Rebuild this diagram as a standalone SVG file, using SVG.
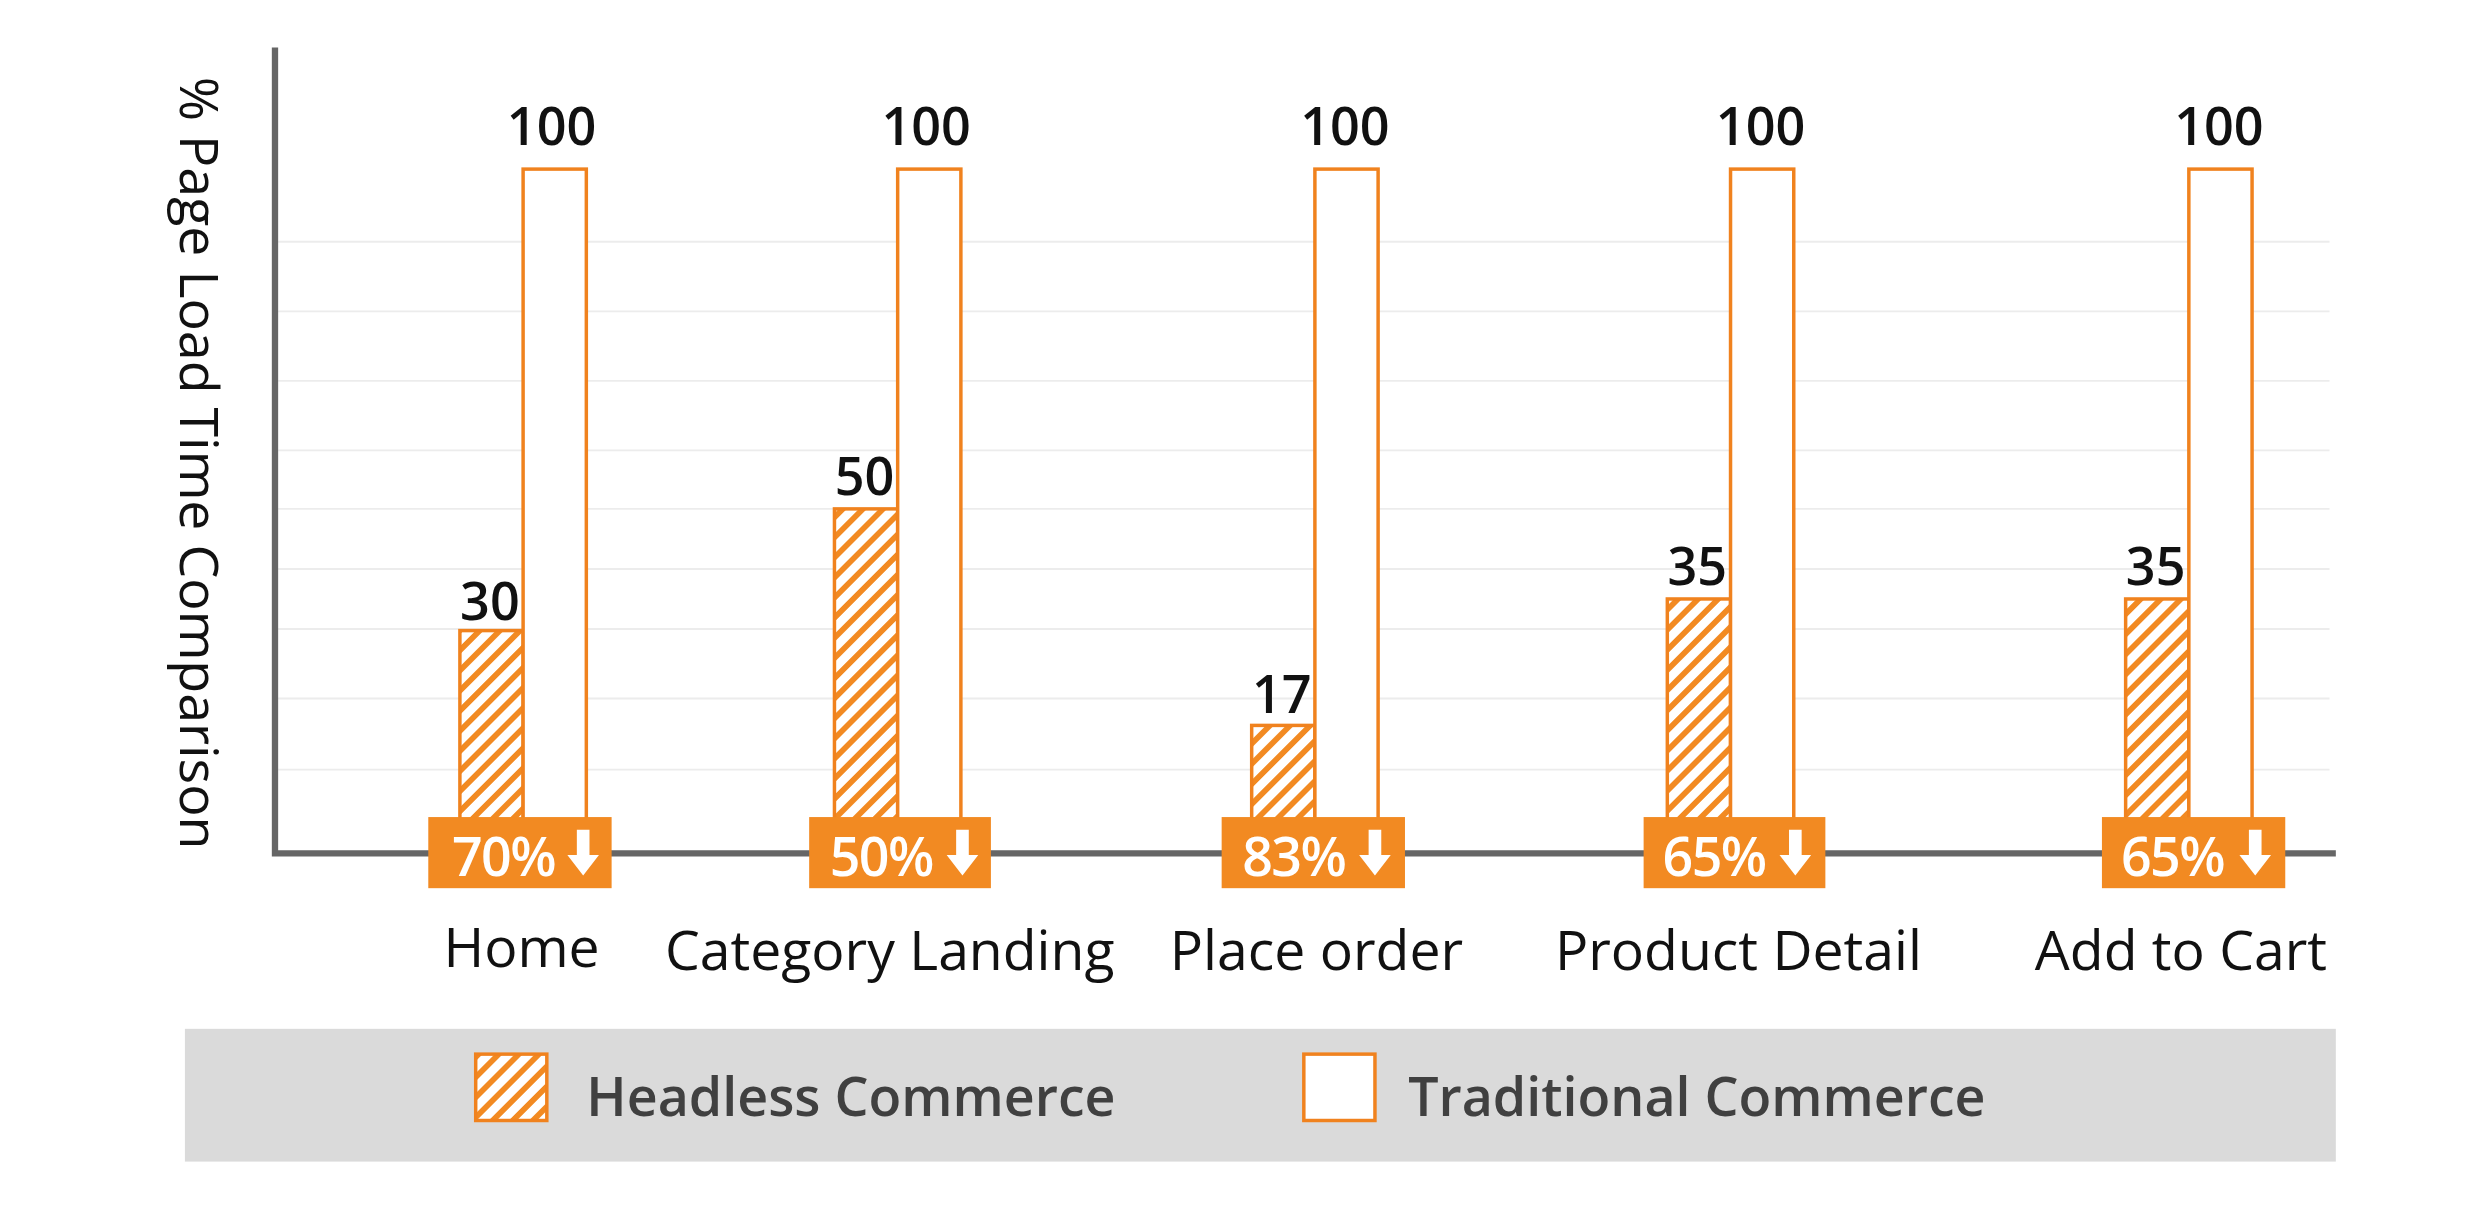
<svg xmlns="http://www.w3.org/2000/svg" width="2478" height="1224" viewBox="0 0 2478 1224">
<defs>
<pattern id="hatch" patternUnits="userSpaceOnUse" width="9" height="9" patternTransform="rotate(45)">
<rect width="9" height="9" fill="#fff"/>
<rect width="3.6" height="9" fill="#f28a22"/>
</pattern>
<path id="arr" d="M-4,0 h8 v16 h6 l-10,13 l-10,-13 h6 z" fill="#fff"/>
</defs>
<style>
.h{fill:url(#hatch);stroke:#f0821e;stroke-width:2.2}
.t{fill:#fff;stroke:#f0821e;stroke-width:2.2}
.v{font-family:"Open Sans","Noto Sans",sans-serif;font-size:33px;font-weight:600;fill:#111;text-anchor:middle}
.c{font-family:"Open Sans","Noto Sans",sans-serif;font-size:35px;fill:#111;text-anchor:middle}
.b{fill:#f28a22}
.bt{font-family:"Open Sans","Noto Sans",sans-serif;font-size:34px;font-weight:600;fill:#fff;letter-spacing:-1px}
.g{stroke:#ececec;stroke-width:1.2}
.lg{font-family:"Open Sans","Noto Sans",sans-serif;font-size:34px;font-weight:600;fill:#404040}
</style>
<rect width="2478" height="1224" fill="#fff"/>
<g transform="scale(1.5804)">
<g id="grid">
<line class="g" x1="176" x2="1474" y1="153" y2="153"/>
<line class="g" x1="176" x2="1474" y1="197" y2="197"/>
<line class="g" x1="176" x2="1474" y1="241" y2="241"/>
<line class="g" x1="176" x2="1474" y1="285" y2="285"/>
<line class="g" x1="176" x2="1474" y1="322" y2="322"/>
<line class="g" x1="176" x2="1474" y1="360" y2="360"/>
<line class="g" x1="176" x2="1474" y1="398" y2="398"/>
<line class="g" x1="176" x2="1474" y1="442" y2="442"/>
<line class="g" x1="176" x2="1474" y1="487" y2="487"/>
</g>
<g id="axes">
<path d="M174,30 V540 H1478" fill="none" stroke="#666" stroke-width="4"/>
<text transform="translate(114,293) rotate(90)" font-family="'Open Sans','Noto Sans',sans-serif" font-size="34" fill="#111" text-anchor="middle">% Page Load Time Comparison</text>
</g>
<g id="home">
<rect class="h" x="291" y="399" width="40" height="120"/>
<rect class="t" x="331" y="107" width="40" height="412"/>
<text class="v" x="310" y="392">30</text>
<text class="v" x="349" y="92">100</text>
<rect class="b" x="271" y="517" width="116" height="45"/>
<text class="bt" x="286" y="554">70%</text>
<use href="#arr" x="369" y="525"/>
<text class="c" x="330" y="612">Home</text>
</g>
<g id="category">
<rect class="h" x="528" y="322" width="40" height="197"/>
<rect class="t" x="568" y="107" width="40" height="412"/>
<text class="v" x="547" y="313">50</text>
<text class="v" x="586" y="92">100</text>
<rect class="b" x="512" y="517" width="115" height="45"/>
<text class="bt" x="525" y="554">50%</text>
<use href="#arr" x="609" y="525"/>
<text class="c" x="563" y="614">Category Landing</text>
</g>
<g id="place">
<rect class="h" x="792" y="459" width="40" height="60"/>
<rect class="t" x="832" y="107" width="40" height="412"/>
<text class="v" x="811" y="451">17</text>
<text class="v" x="851" y="92">100</text>
<rect class="b" x="773" y="517" width="116" height="45"/>
<text class="bt" x="786" y="554">83%</text>
<use href="#arr" x="870" y="525"/>
<text class="c" x="833" y="614">Place order</text>
</g>
<g id="product">
<rect class="h" x="1055" y="379" width="40" height="140"/>
<rect class="t" x="1095" y="107" width="40" height="412"/>
<text class="v" x="1074" y="370">35</text>
<text class="v" x="1114" y="92">100</text>
<rect class="b" x="1040" y="517" width="115" height="45"/>
<text class="bt" x="1052" y="554">65%</text>
<use href="#arr" x="1136" y="525"/>
<text class="c" x="1100" y="614">Product Detail</text>
</g>
<g id="cart">
<rect class="h" x="1345" y="379" width="40" height="140"/>
<rect class="t" x="1385" y="107" width="40" height="412"/>
<text class="v" x="1364" y="370">35</text>
<text class="v" x="1404" y="92">100</text>
<rect class="b" x="1330" y="517" width="116" height="45"/>
<text class="bt" x="1342" y="554">65%</text>
<use href="#arr" x="1427" y="525"/>
<text class="c" x="1380" y="614">Add to Cart</text>
</g>
<g id="legend">
<rect x="117" y="651" width="1361" height="84" fill="#dadada"/>
<rect class="h" x="301" y="667" width="45" height="42"/>
<text class="lg" x="371" y="706">Headless Commerce</text>
<rect class="t" x="825" y="667" width="45" height="42"/>
<text class="lg" x="891" y="706">Traditional Commerce</text>
</g>
</g>
</svg>
